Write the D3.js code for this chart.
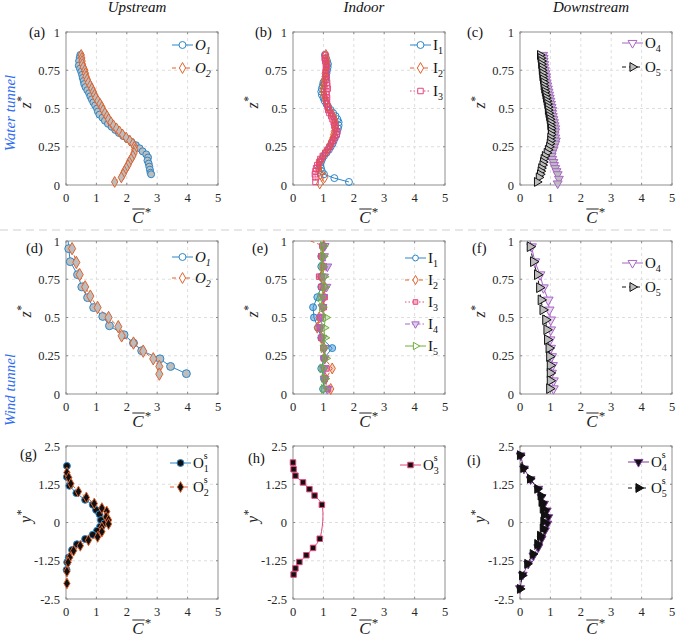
<!DOCTYPE html>
<html>
<head>
<meta charset="utf-8">
<script src="https://cdn.jsdelivr.net/npm/d3@7"></script>
<style>
  body { margin: 0; background: #fff; }
  text { font-family: "Liberation Serif", "Times New Roman", serif; }
</style>
</head>
<body>
<div id="chart"></div>
<script>
// tick values
var xTicks = [0, 1, 2, 3, 4, 5]
var zTicks = [0, 0.25, 0.5, 0.75, 1]
var yTicks = [-2.5, -1.25, 0, 1.25, 2.5]
var colTitles = ["Upstream", "Indoor", "Downstream"]
var rowTitles = ["Water tunnel", "Wind tunnel"]

// (a) water tunnel upstream, [C*, z*]
var a_O1 = [[0.47,0.85],[0.45,0.83],[0.43,0.81],[0.42,0.78],[0.46,0.76],[0.50,0.74],[0.53,0.72],[0.55,0.70],[0.58,0.68],[0.60,0.66],[0.64,0.64],[0.70,0.62],[0.76,0.60],[0.80,0.58],[0.85,0.56],[0.90,0.54],[0.96,0.52],[1.02,0.50],[1.05,0.48],[1.10,0.46],[1.20,0.44],[1.28,0.42],[1.38,0.40],[1.50,0.38],[1.62,0.36],[1.74,0.34],[1.88,0.32],[2.02,0.30],[2.16,0.28],[2.30,0.26],[2.42,0.24],[2.52,0.22],[2.64,0.20],[2.70,0.18],[2.68,0.16],[2.72,0.14],[2.74,0.12],[2.76,0.10],[2.78,0.08],[2.80,0.07]]
var a_O2 = [[0.50,0.85],[0.52,0.83],[0.53,0.81],[0.54,0.79],[0.57,0.77],[0.62,0.75],[0.64,0.73],[0.66,0.71],[0.70,0.69],[0.74,0.67],[0.80,0.65],[0.85,0.63],[0.90,0.61],[0.94,0.59],[0.98,0.57],[1.05,0.55],[1.12,0.53],[1.18,0.51],[1.22,0.49],[1.28,0.47],[1.35,0.45],[1.40,0.43],[1.48,0.41],[1.56,0.39],[1.66,0.37],[1.76,0.35],[1.86,0.33],[1.98,0.31],[2.10,0.29],[2.20,0.27],[2.25,0.25],[2.26,0.23],[2.24,0.21],[2.20,0.19],[2.14,0.17],[2.08,0.15],[2.04,0.13],[1.98,0.11],[1.92,0.09],[1.88,0.07],[1.82,0.05],[1.60,0.02]]

// (b) water tunnel indoor
var b_I1 = [[1.05,0.85],[1.08,0.83],[1.12,0.81],[1.15,0.79],[1.14,0.77],[1.12,0.75],[1.10,0.73],[1.08,0.71],[1.06,0.69],[1.00,0.67],[0.98,0.65],[0.95,0.63],[0.93,0.61],[0.95,0.59],[1.00,0.57],[1.04,0.55],[1.10,0.53],[1.16,0.51],[1.24,0.49],[1.32,0.47],[1.40,0.45],[1.46,0.43],[1.50,0.41],[1.50,0.39],[1.48,0.37],[1.44,0.35],[1.42,0.33],[1.38,0.31],[1.34,0.29],[1.30,0.27],[1.24,0.25],[1.18,0.23],[1.10,0.21],[1.02,0.19],[0.96,0.17],[0.92,0.15],[0.90,0.13],[0.92,0.11],[0.95,0.09],[1.02,0.07],[1.36,0.045],[1.84,0.02]]
var b_I2 = [[1.08,0.85],[1.10,0.83],[1.10,0.81],[1.12,0.79],[1.10,0.77],[1.08,0.75],[1.06,0.73],[1.06,0.71],[1.04,0.69],[1.02,0.67],[1.02,0.65],[1.00,0.63],[1.00,0.61],[1.02,0.59],[1.05,0.57],[1.08,0.55],[1.12,0.53],[1.16,0.51],[1.20,0.49],[1.26,0.47],[1.32,0.45],[1.36,0.43],[1.38,0.41],[1.40,0.39],[1.38,0.37],[1.36,0.35],[1.34,0.33],[1.32,0.31],[1.28,0.29],[1.24,0.27],[1.20,0.25],[1.14,0.23],[1.06,0.21],[1.00,0.19],[0.94,0.17],[0.88,0.15],[0.85,0.13],[0.84,0.11],[0.86,0.09],[0.90,0.07],[1.04,0.05],[0.88,0.01]]
var b_I3 = [[1.06,0.85],[1.04,0.83],[1.06,0.81],[1.08,0.79],[1.10,0.77],[1.08,0.75],[1.08,0.73],[1.10,0.71],[1.10,0.69],[1.12,0.67],[1.12,0.65],[1.14,0.63],[1.10,0.61],[1.10,0.59],[1.12,0.57],[1.10,0.55],[1.12,0.53],[1.14,0.51],[1.16,0.49],[1.20,0.47],[1.26,0.45],[1.30,0.43],[1.34,0.41],[1.36,0.39],[1.40,0.37],[1.46,0.35],[1.44,0.33],[1.38,0.31],[1.32,0.29],[1.26,0.27],[1.20,0.25],[1.14,0.23],[1.06,0.21],[0.98,0.19],[0.90,0.17],[0.86,0.15],[0.80,0.13],[0.76,0.11],[0.74,0.09],[0.72,0.07],[0.74,0.05],[0.74,0.02]]

// (c) water tunnel downstream
var c_O4 = [[0.76,0.85],[0.78,0.83],[0.78,0.81],[0.80,0.79],[0.80,0.77],[0.82,0.75],[0.84,0.73],[0.86,0.71],[0.86,0.69],[0.88,0.67],[0.90,0.65],[0.92,0.63],[0.94,0.61],[0.96,0.59],[0.98,0.57],[1.00,0.55],[1.02,0.53],[1.04,0.51],[1.06,0.49],[1.06,0.47],[1.08,0.45],[1.10,0.43],[1.12,0.41],[1.14,0.39],[1.16,0.37],[1.16,0.35],[1.14,0.33],[1.16,0.31],[1.18,0.29],[1.16,0.27],[1.12,0.25],[1.10,0.23],[1.06,0.21],[1.04,0.19],[1.06,0.17],[1.10,0.15],[1.12,0.13],[1.16,0.11],[1.20,0.09],[1.24,0.07],[1.28,0.04],[1.24,0.01]]
var c_O5 = [[0.66,0.85],[0.68,0.83],[0.70,0.81],[0.70,0.79],[0.72,0.77],[0.72,0.75],[0.74,0.73],[0.74,0.71],[0.76,0.69],[0.78,0.67],[0.78,0.65],[0.80,0.63],[0.82,0.61],[0.84,0.59],[0.86,0.57],[0.88,0.55],[0.90,0.53],[0.92,0.51],[0.92,0.49],[0.94,0.47],[0.96,0.45],[0.98,0.43],[1.00,0.41],[1.00,0.39],[1.02,0.37],[1.02,0.35],[1.02,0.33],[1.00,0.31],[1.00,0.29],[0.98,0.27],[0.96,0.25],[0.92,0.23],[0.88,0.21],[0.82,0.19],[0.78,0.17],[0.76,0.15],[0.74,0.13],[0.70,0.11],[0.68,0.09],[0.66,0.07],[0.62,0.05],[0.56,0.02]]

// (d) wind tunnel upstream
var d_O1 = [[0.05,1.05],[0.09,0.95],[0.14,0.865],[0.38,0.78],[0.52,0.70],[0.71,0.63],[0.91,0.565],[1.21,0.507],[1.43,0.446],[1.91,0.387],[2.22,0.333],[2.49,0.283],[3.09,0.23],[3.44,0.18],[3.96,0.133]]
var d_O2 = [[0.20,0.95],[0.34,0.86],[0.45,0.78],[0.63,0.70],[0.80,0.64],[1.04,0.565],[1.40,0.50],[1.72,0.44],[1.83,0.38],[2.22,0.333],[2.54,0.28],[2.87,0.23],[3.07,0.18],[3.07,0.13]]

// (e) wind tunnel indoor, one C* value per z* level
var zE = [0.967, 0.9, 0.833, 0.767, 0.7, 0.633, 0.567, 0.5, 0.433, 0.367, 0.3, 0.233, 0.167, 0.1, 0.033]
var e_I1 = [0.99, 0.93, 0.93, 0.93, 0.93, 0.80, 0.66, 0.69, 0.82, 0.93, 1.29, 1.02, 0.93, 1.02, 0.99]
var e_I2 = [1.01, 0.97, 0.99, 0.93, 1.04, 1.02, 0.99, 0.86, 0.80, 0.93, 1.02, 1.04, 1.29, 1.07, 1.24]
var e_I3 = [0.97, 0.93, 1.01, 0.86, 0.93, 1.04, 1.01, 0.91, 0.88, 0.93, 1.00, 1.02, 1.10, 1.04, 1.15]
var e_I4 = [1.04, 1.02, 1.13, 1.02, 1.10, 0.99, 0.97, 0.93, 0.91, 0.97, 1.04, 1.04, 1.02, 1.04, 1.13]
var e_I5 = [0.99, 0.99, 0.97, 1.02, 1.04, 0.91, 0.96, 1.07, 1.02, 1.04, 1.01, 1.07, 0.97, 1.04, 1.02]

// (f) wind tunnel downstream
var f_O4 = [[0.28,1.04],[0.38,0.963],[0.49,0.865],[0.66,0.78],[0.77,0.695],[0.93,0.615],[0.96,0.55],[1.01,0.485],[1.01,0.42],[0.99,0.355],[1.01,0.30],[1.04,0.245],[1.07,0.187],[1.04,0.137],[1.10,0.087],[1.10,0.035]]
var f_O5 = [[0.33,0.963],[0.44,0.865],[0.57,0.78],[0.64,0.695],[0.69,0.615],[0.75,0.55],[0.84,0.485],[0.88,0.42],[0.90,0.355],[0.95,0.30],[0.97,0.245],[0.99,0.187],[0.99,0.137],[0.99,0.087],[0.97,0.035]]

// (g)-(i) spanwise profiles, [C*, y*]
var g_O1s = [[0.03,1.85],[0.03,1.49],[0.11,1.20],[0.34,0.96],[0.63,0.74],[0.88,0.58],[0.99,0.41],[1.10,0.27],[1.15,0.08],[1.26,-0.03],[1.12,-0.14],[1.02,-0.27],[0.88,-0.40],[0.63,-0.54],[0.36,-0.71],[0.20,-0.90],[0.09,-1.14],[0.04,-1.30],[0.02,-1.55]]
var g_O2s = [[0.03,1.63],[0.09,1.47],[0.16,1.27],[0.41,1.01],[0.67,0.82],[0.93,0.62],[1.18,0.47],[1.34,0.36],[1.32,0.18],[1.40,0.08],[1.40,-0.05],[1.18,-0.16],[1.18,-0.30],[1.04,-0.47],[0.74,-0.58],[0.47,-0.76],[0.25,-0.92],[0.12,-1.14],[0.07,-1.30],[0.03,-1.60],[0.03,-1.99]]
var h_O3s = [[0.00,1.96],[0.02,1.74],[0.08,1.53],[0.33,1.31],[0.54,1.09],[0.71,0.88],[0.95,0.58],[0.88,-0.53],[0.66,-0.83],[0.44,-1.07],[0.21,-1.29],[0.08,-1.50],[0.02,-1.70]]
var i_O4s = [[0.02,2.19],[0.13,1.76],[0.35,1.41],[0.60,1.10],[0.71,0.83],[0.79,0.61],[0.88,0.39],[0.93,0.17],[0.90,-0.04],[0.82,-0.26],[0.71,-0.53],[0.60,-0.81],[0.44,-1.08],[0.27,-1.35],[0.09,-1.71],[0.00,-2.15]]
var i_O5s = [[0.00,2.20],[0.11,1.78],[0.33,1.43],[0.57,1.10],[0.68,0.88],[0.71,0.67],[0.75,0.45],[0.79,0.25],[0.77,0.03],[0.75,-0.19],[0.66,-0.43],[0.57,-0.70],[0.42,-1.03],[0.24,-1.35],[0.07,-1.73],[0.00,-2.17]]

var BLUE = "#2c87c9", ORANGE = "#e0622d", PINK = "#e4467c", PURPLE = "#a865c8",
    GREEN = "#6fae3c", GRAYF = "#bdbdbd", DPURPLE = "#7d3c98"

var zip = (zs, cs) => zs.map((z, i) => [cs[i], z])

var colX = [66, 293, 520]
var rowY = [32, 241, 446]
var PW = 152, PH = 153
var xLabOff = [38, 33, 35]

var panels = [
  { tag: "(a)", col: 0, row: 0, tagXY: [29, 37], leg: [106, 13, 23], series: [
    { d: a_O1, c: BLUE, sym: "circle", fill: GRAYF, lf: "#fff", t: ["O", "1", "", true] },
    { d: a_O2, c: ORANGE, dash: "4,3", sym: "diamond", fill: GRAYF, lf: "#fff", t: ["O", "2", "", true] }] },
  { tag: "(b)", col: 1, row: 0, tagXY: [255, 37], leg: [117, 13, 23], series: [
    { d: b_I1, c: BLUE, sym: "circle", fill: "none", lf: "#fff", t: ["I", "1", ""] },
    { d: b_I2, c: ORANGE, dash: "4,3", sym: "diamond", fill: "none", lf: "#fff", t: ["I", "2", ""] },
    { d: b_I3, c: PINK, dash: "1.5,2", sym: "square", fill: "none", lf: "#fff", t: ["I", "3", ""] }] },
  { tag: "(c)", col: 2, row: 0, tagXY: [467, 37], leg: [102, 11, 24], series: [
    { d: c_O4, c: PURPLE, sym: "down", fill: GRAYF, lf: "#fff", t: ["O", "4", ""] },
    { d: c_O5, c: "#111", dash: "4,3", sym: "right", fill: GRAYF, lf: GRAYF, t: ["O", "5", ""] }] },
  { tag: "(d)", col: 0, row: 1, tagXY: [26, 253], leg: [106, 16, 21], series: [
    { d: d_O1, c: BLUE, sym: "circle", fill: GRAYF, lf: "#fff", r: 1.3, t: ["O", "1", "", true] },
    { d: d_O2, c: ORANGE, dash: "4,3", sym: "diamond", fill: GRAYF, lf: "#fff", r: 1.3, t: ["O", "2", "", true] }] },
  { tag: "(e)", col: 1, row: 1, tagXY: [252, 253], leg: [112, 17, 22], ls: 0.7, series: [
    { d: zip(zE, e_I1), c: BLUE, sym: "circle", fill: BLUE, fo: 0.45, lf: "#fff", t: ["I", "1", ""] },
    { d: [[0.15, 1.033]].concat(zip(zE, e_I2)), c: ORANGE, dash: "4,3", sym: "diamond", fill: ORANGE, fo: 0.3, lf: "#fff", t: ["I", "2", ""] },
    { d: zip(zE, e_I3), c: PINK, dash: "1.5,2", sym: "square", fill: PINK, fo: 0.5, lf: "#f6b3c8", t: ["I", "3", ""] },
    { d: zip(zE, e_I4), c: PURPLE, dash: "5,2,1.5,2", sym: "down", fill: PURPLE, fo: 0.5, lf: "#e2cdee", t: ["I", "4", ""] },
    { d: zip(zE, e_I5), c: GREEN, sym: "right", fill: GREEN, fo: 0.3, lf: "#fff", t: ["I", "5", ""] }] },
  { tag: "(f)", col: 2, row: 1, tagXY: [472, 253], leg: [102, 22, 24], series: [
    { d: f_O4, c: PURPLE, sym: "down", fill: "#e6d6ee", lf: "#fff", r: 1.2, t: ["O", "4", ""] },
    { d: f_O5, c: "#111", dash: "4,3", sym: "right", fill: GRAYF, lf: GRAYF, r: 1.2, t: ["O", "5", ""] }] },
  { tag: "(g)", col: 0, row: 2, y: true, tagXY: [20, 459], leg: [104, 17, 24], series: [
    { d: g_O1s, c: BLUE, sym: "circle", fill: "#111", lf: "#111", t: ["O", "1", "s"] },
    { d: g_O2s, c: ORANGE, dash: "4,3", sym: "diamond", fill: "#111", lf: "#111", t: ["O", "2", "s"] }] },
  { tag: "(h)", col: 1, row: 2, y: true, tagXY: [248, 463], leg: [107, 19, 24], series: [
    { d: h_O3s, c: PINK, sym: "square", fill: "#111", lf: "#111", smooth: true, t: ["O", "3", "s"] }] },
  { tag: "(i)", col: 2, row: 2, y: true, tagXY: [467, 465], leg: [108, 16, 26], series: [
    { d: i_O4s, c: DPURPLE, sym: "down", fill: "#111", lf: "#111", t: ["O", "4", "s"] },
    { d: i_O5s, c: "#111", dash: "4,3", sym: "right", fill: "#111", lf: "#111", t: ["O", "5", "s"] }] }
]

var svg = d3.select("#chart").append("svg")
  .attr("width", 677).attr("height", 641)
  .attr("font-family", "'Liberation Serif', 'Times New Roman', serif")
  .style("display", "block")

var symType = { circle: d3.symbolCircle, diamond: d3.symbolDiamond, square: d3.symbolSquare, down: d3.symbolTriangle, right: d3.symbolTriangle }
var symRot = { circle: 0, diamond: 0, square: 0, down: 180, right: 90 }
var symSize = { circle: 38, diamond: 34, square: 30, down: 34, right: 34 }

function marker(g, s, x, y, fill, scale) {
  g.append("path")
    .attr("d", d3.symbol().type(symType[s.sym]).size(symSize[s.sym] * (scale || 1))())
    .attr("transform", "translate(" + x + "," + y + ") rotate(" + symRot[s.sym] + ")")
    .attr("fill", fill)
    .attr("fill-opacity", fill === s.fill && s.fo ? s.fo : 1)
    .attr("stroke", s.c)
    .attr("stroke-width", 1)
}

// header texts
colTitles.forEach((t, i) => {
  svg.append("text").text(t)
    .attr("x", colX[i] + PW / 2 - 5).attr("y", 12)
    .attr("text-anchor", "middle").attr("font-size", 15).attr("font-style", "italic")
    .attr("fill", "#111")
})
var rowMid = [113, 390]
rowTitles.forEach((t, i) => {
  svg.append("text").text(t)
    .attr("transform", "translate(15," + rowMid[i] + ") rotate(-90)")
    .attr("text-anchor", "middle").attr("font-size", 15).attr("font-style", "italic")
    .attr("fill", "#2f6cf2")
})
svg.append("line")
  .attr("x1", 0).attr("x2", 672).attr("y1", 230).attr("y2", 230)
  .attr("stroke", "#cfcfcf").attr("stroke-dasharray", "8,5")

panels.forEach((p, pi) => {
  var x0 = colX[p.col], y0 = rowY[p.row]
  var x = d3.scaleLinear().domain([0, 5]).range([x0, x0 + PW])
  var yTickVals = p.y ? yTicks : zTicks
  var y = d3.scaleLinear().domain(p.y ? [-2.5, 2.5] : [0, 1]).range([y0 + PH, y0])
  var g = svg.append("g")

  // grid
  g.selectAll(null).data(xTicks.slice(1, -1)).enter().append("line")
    .attr("x1", d => x(d)).attr("x2", d => x(d)).attr("y1", y0).attr("y2", y0 + PH)
    .attr("stroke", "#dedede").attr("stroke-dasharray", "3,3")
  g.selectAll(null).data(yTickVals.slice(1, -1)).enter().append("line")
    .attr("x1", x0).attr("x2", x0 + PW).attr("y1", d => y(d)).attr("y2", d => y(d))
    .attr("stroke", "#dedede").attr("stroke-dasharray", "3,3")

  // ticks inward
  xTicks.forEach(t => {
    g.append("line").attr("x1", x(t)).attr("x2", x(t)).attr("y1", y0 + PH).attr("y2", y0 + PH - 2).attr("stroke", "#8a8a8a")
    g.append("line").attr("x1", x(t)).attr("x2", x(t)).attr("y1", y0).attr("y2", y0 + 2).attr("stroke", "#8a8a8a")
  })
  yTickVals.forEach(t => {
    g.append("line").attr("x1", x0).attr("x2", x0 + 2).attr("y1", y(t)).attr("y2", y(t)).attr("stroke", "#8a8a8a")
    g.append("line").attr("x1", x0 + PW).attr("x2", x0 + PW - 2).attr("y1", y(t)).attr("y2", y(t)).attr("stroke", "#8a8a8a")
  })

  // tick labels
  g.selectAll(null).data(xTicks).enter().append("text")
    .text(d => d)
    .attr("x", d => x(d)).attr("y", y0 + PH + 17)
    .attr("text-anchor", "middle").attr("font-size", 12.5).attr("fill", "#262626")
  g.selectAll(null).data(yTickVals).enter().append("text")
    .text(d => d)
    .attr("x", x0 - 6).attr("y", d => y(d) + 4.5)
    .attr("text-anchor", "end").attr("font-size", 12.5).attr("fill", "#262626")

  // box
  g.append("rect").attr("x", x0).attr("y", y0).attr("width", PW).attr("height", PH)
    .attr("fill", "none").attr("stroke", "#8f8f8f").attr("stroke-width", 1)

  // panel tag
  g.append("text").text(p.tag)
    .attr("x", p.tagXY[0]).attr("y", p.tagXY[1])
    .attr("font-size", 14.5).attr("fill", "#111")

  // y label
  var yl = g.append("text")
    .attr("transform", "translate(" + (x0 - 35) + "," + (y0 + PH / 2 - 6) + ") rotate(-90)")
    .attr("text-anchor", "middle").attr("font-size", 16).attr("font-style", "italic").attr("fill", "#222")
  yl.append("tspan").text(p.y ? "y" : "z")
  yl.append("tspan").text("*").attr("dy", -6).attr("font-size", 12)

  // x label: C with overline and *
  var lx = x0 + PW / 2 - 4, ly = y0 + PH + xLabOff[p.row]
  var ct = g.append("text").text("C")
    .attr("x", lx).attr("y", ly).attr("text-anchor", "middle")
    .attr("font-size", 17).attr("font-style", "italic").attr("fill", "#222")
  var cw = ct.node().getComputedTextLength()
  g.append("line")
    .attr("x1", lx - cw / 2).attr("x2", lx + cw / 2 + 1)
    .attr("y1", ly - 14).attr("y2", ly - 14)
    .attr("stroke", "#222").attr("stroke-width", 1)
  g.append("text").text("*")
    .attr("x", lx + cw / 2 + 1).attr("y", ly - 7)
    .attr("font-size", 13).attr("fill", "#222")

  // clip for lines
  var cid = "clip" + pi
  svg.append("clipPath").attr("id", cid).append("rect")
    .attr("x", x0).attr("y", y0).attr("width", PW).attr("height", PH)

  var inside = d => d[0] >= 0 && d[0] <= 5 && d[1] >= y.domain()[0] && d[1] <= y.domain()[1]

  p.series.forEach(s => {
    var line = d3.line().x(d => x(d[0])).y(d => y(d[1]))
    if (s.smooth) line.curve(d3.curveCatmullRom.alpha(0.5))
    g.append("path").datum(s.d)
      .attr("d", line)
      .attr("clip-path", "url(#" + cid + ")")
      .attr("fill", "none").attr("stroke", s.c).attr("stroke-width", 1)
      .attr("stroke-dasharray", s.dash || null)
    var mg = g.append("g")
    s.d.filter(inside).forEach(d => marker(mg, s, x(d[0]), y(d[1]), s.fill, s.r))
  })

  // legend
  var lgx = x0 + p.leg[0], lgy = y0 + p.leg[1]
  p.series.forEach((s, i) => {
    var yy = lgy + i * p.leg[2]
    g.append("line").attr("x1", lgx).attr("x2", lgx + 21).attr("y1", yy).attr("y2", yy)
      .attr("stroke", s.c).attr("stroke-width", 1).attr("stroke-dasharray", s.dash || null)
    marker(g, s, lgx + 10.5, yy, s.lf, p.ls)
    var it = s.t[3] ? "italic" : "normal"
    var mt = g.append("text").text(s.t[0])
      .attr("x", lgx + 23).attr("y", yy + 5)
      .attr("font-size", 15).attr("font-style", it).attr("fill", "#111")
    var mw = mt.node().getComputedTextLength()
    g.append("text").text(s.t[1])
      .attr("x", lgx + 23 + mw).attr("y", yy + 9)
      .attr("font-size", 10).attr("font-style", it).attr("fill", "#111")
    if (s.t[2]) {
      g.append("text").text(s.t[2])
        .attr("x", lgx + 23 + mw).attr("y", yy - 4)
        .attr("font-size", 10).attr("fill", "#111")
    }
  })
})
</script>
</body>
</html>
